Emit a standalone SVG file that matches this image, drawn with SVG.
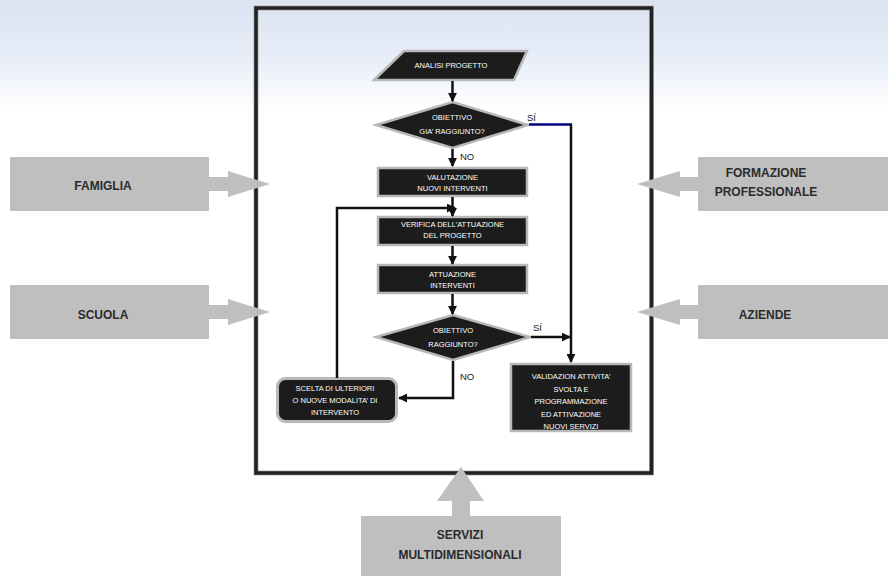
<svg xmlns="http://www.w3.org/2000/svg" width="888" height="576" viewBox="0 0 888 576">
<defs>
<linearGradient id="bg" x1="0" y1="0" x2="0" y2="1">
<stop offset="0" stop-color="#dbe3f2"/>
<stop offset="0.55" stop-color="#e8eef8"/>
<stop offset="1" stop-color="#ffffff"/>
</linearGradient>
<marker id="ah" viewBox="0 0 10 10" refX="9" refY="5" markerWidth="9" markerHeight="9" markerUnits="userSpaceOnUse" orient="auto">
<path d="M0,0 L10,5 L0,10 z" fill="#111"/>
</marker>
<style>
.node{fill:#1c1c1c;stroke:#b8b8b8;stroke-width:2.5}
.nt{font-family:"Liberation Sans",Arial,sans-serif;font-size:7.5px;fill:#ffffff;text-anchor:middle}
.side{fill:#bfbfbf}
.st{font-family:"Liberation Sans",Arial,sans-serif;font-size:12px;font-weight:bold;fill:#2b2b2b;text-anchor:middle}
.c{fill:none;stroke:#111;stroke-width:2.5}
.lbl{font-family:"Liberation Sans",Arial,sans-serif;font-size:9.5px;fill:#222}
</style>
</defs>
<rect x="0" y="0" width="888" height="110" fill="url(#bg)"/>
<rect x="0" y="110" width="888" height="466" fill="#ffffff"/>

<g id="frame">
<rect x="256" y="8" width="395.5" height="465" fill="none" stroke="#b0b0b0" stroke-width="5"/>
<rect x="256" y="8" width="395.5" height="465" fill="none" stroke="#222" stroke-width="3.5"/>
</g>

<g id="famiglia">
<rect class="side" x="10" y="157" width="199" height="54"/>
<path class="side" d="M209,177 H228 V171 L270,184 L228,197 V191 H209 z"/>
<text class="st" x="103" y="190">FAMIGLIA</text>
</g>
<g id="scuola">
<rect class="side" x="10" y="285" width="199" height="54"/>
<path class="side" d="M209,305 H228 V299 L270,312 L228,325 V319 H209 z"/>
<text class="st" x="103" y="319">SCUOLA</text>
</g>
<g id="formazione">
<rect class="side" x="698" y="157" width="190" height="54"/>
<path class="side" d="M698,177 H680 V171 L637,184 L680,197 V191 H698 z"/>
<text class="st" x="766" y="177">FORMAZIONE</text>
<text class="st" x="766" y="196">PROFESSIONALE</text>
</g>
<g id="aziende">
<rect class="side" x="698" y="285" width="190" height="54"/>
<path class="side" d="M698,305 H680 V299 L637,312 L680,325 V319 H698 z"/>
<text class="st" x="765" y="319">AZIENDE</text>
</g>
<g id="servizi">
<rect class="side" x="361" y="516" width="200" height="60"/>
<path class="side" d="M452,516 V501 H437 L461,467 L484,501 H470 V516 z"/>
<text class="st" x="460" y="539">SERVIZI</text>
<text class="st" x="460" y="559">MULTIDIMENSIONALI</text>
</g>

<g id="analisi">
<polygon class="node" points="404,51 527,51 514,80 374,80"/>
<text class="nt" x="451" y="68">ANALISI PROGETTO</text>
</g>
<g id="obiettivo1">
<polygon class="node" points="452.5,102 528,125 452.5,148 376,125"/>
<text class="nt" x="452" y="120">OBIETTIVO</text>
<text class="nt" x="452" y="134">GIA’ RAGGIUNTO?</text>
</g>
<g id="valutazione">
<rect class="node" x="378" y="168" width="149" height="28"/>
<text class="nt" x="452.5" y="180">VALUTAZIONE</text>
<text class="nt" x="452.5" y="191">NUOVI INTERVENTI</text>
</g>
<g id="verifica">
<rect class="node" x="378" y="217" width="149" height="28"/>
<text class="nt" x="452.5" y="227">VERIFICA DELL’ATTUAZIONE</text>
<text class="nt" x="452.5" y="238">DEL PROGETTO</text>
</g>
<g id="attuazione">
<rect class="node" x="378" y="265" width="149" height="28"/>
<text class="nt" x="452.5" y="277">ATTUAZIONE</text>
<text class="nt" x="452.5" y="288">INTERVENTI</text>
</g>
<g id="obiettivo2">
<polygon class="node" points="453,315 530,337 453,360 376,337"/>
<text class="nt" x="453" y="333">OBIETTIVO</text>
<text class="nt" x="453" y="347">RAGGIUNTO?</text>
</g>
<g id="scelta">
<rect x="277.5" y="378.5" width="119" height="43" rx="8" fill="#1c1c1c" stroke="#b8b8b8" stroke-width="3"/>
<text class="nt" x="335" y="391">SCELTA DI ULTERIORI</text>
<text class="nt" x="335" y="403">O NUOVE MODALITA’ DI</text>
<text class="nt" x="335" y="415">INTERVENTO</text>
</g>
<g id="validazion">
<rect class="node" x="511" y="364" width="120" height="67"/>
<text class="nt" x="571" y="379">VALIDAZION ATTIVITA’</text>
<text class="nt" x="571" y="392">SVOLTA E</text>
<text class="nt" x="571" y="404">PROGRAMMAZIONE</text>
<text class="nt" x="571" y="417">ED ATTIVAZIONE</text>
<text class="nt" x="571" y="429">NUOVI SERVIZI</text>
</g>

<g id="connectors">
<path class="c" d="M452.5,81 V101" marker-end="url(#ah)"/>
<path class="c" d="M452.5,149 V166" marker-end="url(#ah)"/>
<path d="M529,124.5 H572" fill="none" stroke="#000080" stroke-width="2.5"/>
<path class="c" d="M571,124 V362" marker-end="url(#ah)"/>
<path class="c" d="M452.5,197 V216" marker-end="url(#ah)"/>
<path class="c" d="M337,378 V208 H455" marker-end="url(#ah)"/>
<path class="c" d="M452.5,246 V264" marker-end="url(#ah)"/>
<path class="c" d="M452.5,294 V314" marker-end="url(#ah)"/>
<path class="c" d="M531,337 H570" marker-end="url(#ah)"/>
<path class="c" d="M453,361 V398 H399" marker-end="url(#ah)"/>
<text class="lbl" x="527" y="121">SÍ</text>
<text class="lbl" x="460" y="160">NO</text>
<text class="lbl" x="533" y="331">SÍ</text>
<text class="lbl" x="460" y="380">NO</text>
</g>
</svg>
